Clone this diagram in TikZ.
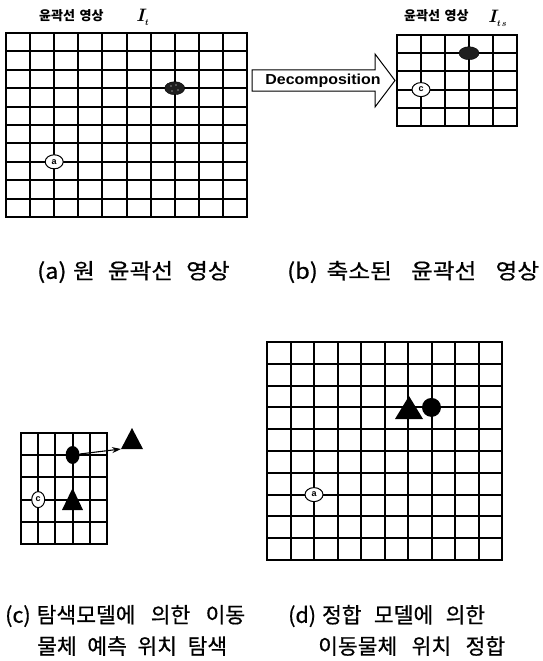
\documentclass[tikz,border=0pt]{standalone}
\usepackage{fontspec}
\usetikzlibrary{shapes.geometric,arrows.meta}
\newfontfamily\kr{Noto Sans CJK KR}[FakeBold=0.6]
\newfontfamily\krt{Noto Sans CJK KR}
\newfontfamily\lsans{Liberation Sans}
\newcommand\drawgrid[6]{%
  \foreach \i in {0,...,#5}{\draw[gridline] ({round(#1+(#3-#1)*\i/#5)},#2) -- ({round(#1+(#3-#1)*\i/#5)},#4);}
  \foreach \j in {0,...,#6}{\draw[gridline] (#1,{round(#2+(#4-#2)*\j/#6)}) -- (#3,{round(#2+(#4-#2)*\j/#6)});}
}
\newcommand\capfont{\kr\fontsize{21.5}{24}\selectfont\spaceskip=0.2em plus 1fil\relax}
\newcommand\titfont{\krt\bfseries\fontsize{13}{15}\selectfont\spaceskip=0.35em\relax}
\newcommand\fit[2]{\makebox[#1pt][s]{#2}}
\newcommand\widefit[2]{\scalebox{1.1}[1]{\makebox[#1pt][s]{#2}}}
\newcommand\bigI[1]{{\fontsize{18}{18}\selectfont\bfseries\itshape I}\raisebox{-4pt}{\fontsize{9}{9}\selectfont\bfseries\itshape #1}}
\begin{document}
\begin{tikzpicture}[x=1pt,y=-1pt,
  gridline/.style={line width=1.7pt,black,line cap=rect},
  blob/.style={ellipse,fill=black!88,draw=black,inner sep=0,minimum width=20pt,minimum height=13pt},
  lbl/.style={ellipse,draw=black,fill=white,line width=1pt,inner sep=0,minimum width=18pt,minimum height=14pt,font=\lsans\bfseries\fontsize{9}{9}\selectfont},
  captxt/.style={anchor=west,inner sep=0,font=\capfont},
  tittxt/.style={anchor=west,inner sep=0,font=\titfont},
  italtxt/.style={anchor=west,inner sep=0},
  trifill/.style={fill=black}]
\useasboundingbox (0,0) rectangle (542,661);

% ---------- (a) original grid ----------
\drawgrid{6}{33}{247}{217}{10}{10}
\node[blob] (blobA) at (174.7,88.2) {};
\fill[black!45] (171,86) circle (0.9) (176,85) circle (0.9) (178,90) circle (0.9) (172,91) circle (0.9);
\node[lbl] (la) at (54.2,161.8) {a};
\node[tittxt] (tA) at (39,16) {윤곽선 영상};
\node[italtxt] (iA) at (136,17) {\bigI{t}};

% ---------- (b) reduced grid ----------
\drawgrid{397}{35}{517}{126}{5}{5}
\node[blob] (blobB) at (469,53.2) {};
\node[lbl] (lc) at (421,89.6) {c};
\node[tittxt] (tB) at (404,16) {윤곽선 영상};
\node[italtxt] (iB) at (488,18) {\bigI{t\,s}};

% ---------- decomposition arrow ----------
\coordinate (d1) at (252,70);
\coordinate (d2) at (375,70);
\coordinate (d3) at (375,54);
\coordinate (d4) at (395,80.5);
\coordinate (d5) at (375,107);
\coordinate (d6) at (375,91);
\coordinate (d7) at (252,91);
\draw[line width=1pt,fill=white] (d1) -- (d2) -- (d3) -- (d4) -- (d5) -- (d6) -- (d7) -- cycle;
\node[inner sep=0,font=\lsans\bfseries\fontsize{14.5}{14.5}\selectfont] (dec) at (323,80.5) {\scalebox{1.1}[1]{Decomposition}};

% ---------- (c) search model grid ----------
\drawgrid{21}{433}{107}{544}{5}{5}
\node[ellipse,fill=black,inner sep=0,minimum width=14pt,minimum height=18pt] (blobC) at (72.6,455) {};
\node[lbl,minimum width=13pt,minimum height=16pt] (lc2) at (38.2,499.6) {c};
\coordinate (tc1) at (132,428);
\coordinate (tc2) at (121,449);
\coordinate (tc3) at (143,449);
\fill[trifill] (tc1) -- (tc2) -- (tc3) -- cycle;
\coordinate (ti1) at (72.6,488);
\coordinate (ti2) at (62,510);
\coordinate (ti3) at (83,510);
\fill[trifill] (ti1) -- (ti2) -- (ti3) -- cycle;
\draw[line width=1.1pt,-{Stealth[length=9pt,width=6pt]}] (blobC.east) ++(0,-1) -- (tc2);

% ---------- (d) matching grid ----------
\drawgrid{267}{342}{502}{560}{10}{10}
\coordinate (td1) at (409,396);
\coordinate (td2) at (395,419);
\coordinate (td3) at (423,419);
\fill[trifill] (td1) -- (td2) -- (td3) -- cycle;
\node[circle,fill=black,inner sep=0,minimum size=19pt] (blobD) at (431.5,407.4) {};
\node[lbl] (la2) at (314,494.6) {a};

% ---------- captions ----------
\node[captxt] (capA) at (37,272) {\widefit{175}{(a)\hspace{6pt}원 윤곽선 영상}};
\node[captxt] (capB) at (287,272) {\widefit{229}{(b)\hspace{8pt}축소된 윤곽선 영상}};
\node[captxt] (capC1) at (5,616) {\fit{240}{(c)\hspace{6pt}탐색모델에 의한 이동}};
\node[captxt] (capC2) at (37,646) {\fit{190}{물체 예측 위치 탐색}};
\node[captxt] (capD1) at (288,616) {\fit{197}{(d)\hspace{6pt}정합 모델에 의한}};
\node[captxt] (capD2) at (318,646) {\fit{187}{이동물체 위치 정합}};
\end{tikzpicture}
\end{document}
